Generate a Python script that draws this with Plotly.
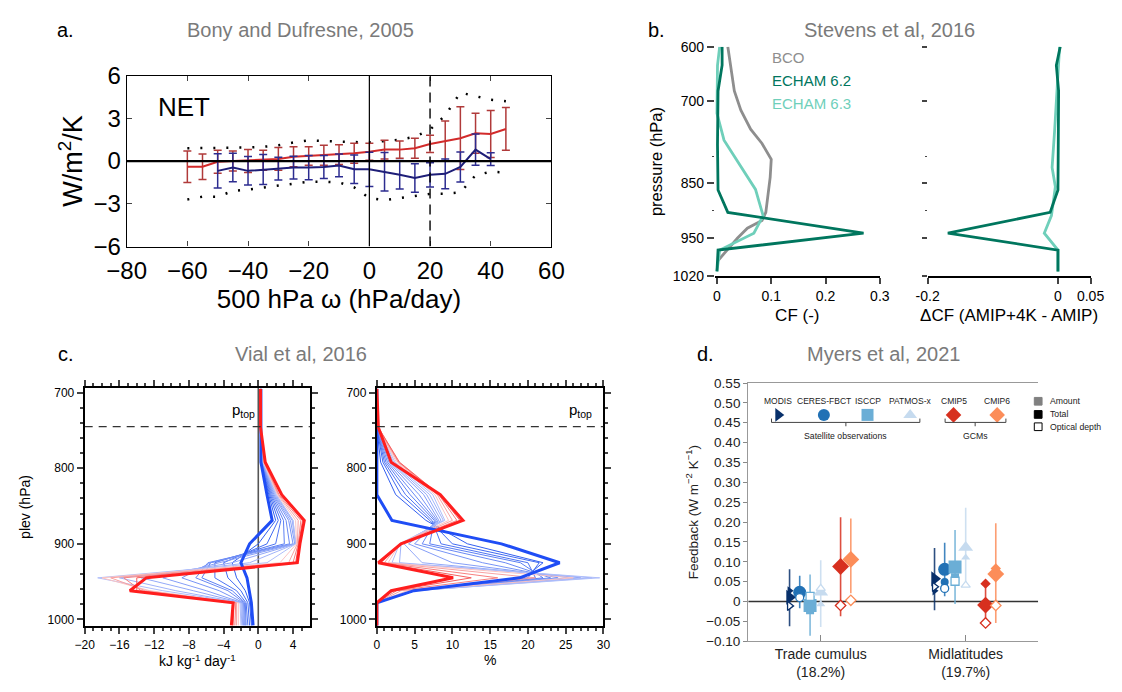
import plotly.graph_objects as go

W, H = 1122, 692
def px(x): return x / W
def py(y): return 1 - y / H

FONT = "Liberation Sans, Arial, sans-serif"

# ---------------- Panel a data (Bony & Dufresne 2005) ----------------
omega = [-60, -55, -50, -45, -40, -35, -30, -25, -20, -15, -10, -5, 0, 5, 10, 15, 20, 25, 30, 35, 40, 45]
red_mean = [-0.4, -0.4, -0.05, 0.0, 0.0, 0.05, 0.15, 0.3, 0.35, 0.4, 0.45, 0.55, 0.65, 0.8, 0.8, 0.9, 1.2, 1.4, 1.6, 1.95, 1.9, 2.25]
red_err = [1.1, 0.9, 0.8, 0.7, 0.8, 0.7, 0.8, 0.7, 0.65, 0.7, 0.7, 0.7, 0.6, 0.65, 0.6, 0.7, 0.6, 1.4, 2.2, 1.4, 1.65, 1.5]
omega_blue = [-50, -45, -40, -35, -30, -25, -20, -15, -10, -5, 0, 5, 10, 15, 20, 25, 30, 35, 40]
blue_mean = [-0.69, -0.46, -0.69, -0.6, -0.53, -0.46, -0.46, -0.42, -0.31, -0.58, -0.58, -0.75, -0.97, -1.19, -0.97, -0.9, -0.42, 0.8, 0.13]
blue_err = [1.2, 1.0, 1.0, 1.05, 0.8, 0.8, 0.85, 0.8, 0.8, 1.0, 1.2, 1.35, 1.0, 1.0, 0.85, 1.05, 1.05, 1.1, 0.45]
env_upper = [0.9, 0.9, 0.9, 0.9, 0.95, 1.0, 1.1, 1.3, 1.45, 1.4, 1.35, 1.3, 1.3, 1.4, 1.5, 1.7, 2.2, 3.2, 4.8, 4.55, 4.3, 4.2]
env_lower = [-2.7, -2.5, -2.5, -2.1, -2.0, -1.85, -1.75, -1.6, -1.45, -1.45, -1.5, -1.85, -2.6, -2.75, -2.6, -2.4, -2.3, -2.3, -2.2, -1.0, -0.75, -0.8]

# ---------------- Panel b data (Stevens et al 2016) ----------------
bco_cf = [0.02, 0.025, 0.032, 0.044, 0.062, 0.083, 0.1, 0.098, 0.092, 0.09, 0.083, 0.056, 0.038, 0.017, 0.002]
bco_p = [600, 634, 681, 716, 751, 777, 806, 839, 880, 903, 918, 932, 950, 973, 991]
e62_cf = [0.0095, 0.0095, 0.002, 0.001, 0.002, 0.02, 0.27, 0.002, 0.0]
e62_p = [600, 634, 681, 780, 862, 903, 941, 972, 1011]
e63_cf = [0.005, 0.001, 0.0, 0.013, 0.071, 0.085, 0.068, 0.005, 0.0]
e63_p = [600, 634, 722, 771, 861, 909, 941, 972, 1011]
e62_dcf = [0.0035, -0.0025, 0.001, 0.0, -0.012, -0.169, 0.0, 0.0]
e62_dp = [600, 634, 681, 862, 903, 941, 972, 1011]
e63_dcf = [0.0025, -0.0015, -0.005, -0.009, -0.004, -0.01, -0.021, 0.0, 0.0]
e63_dp = [600, 692, 751, 821, 856, 909, 941, 972, 1011]
b_ptick = [600, 700, 850, 950, 1020]

# ---------------- Panel c data (Vial et al 2016) ----------------
plev = [695, 746, 792, 835, 869, 900, 925, 945, 962, 978, 1008]
heat_blue = [0.3, 0.3, 0.3, 1.0, 1.6, -1.0, -2.0, -1.3, -1.0, -0.8, -0.6]
heat_mid = [
    [0.3, 0.3, 0.35, 1.2, 2.0, 0.0, -3.0, -2.5, -1.5, -1.0, -0.8],
    [0.3, 0.3, 0.35, 1.3, 2.3, 1.0, -4.0, -3.5, -2.0, -1.2, -1.0],
    [0.3, 0.3, 0.4, 1.4, 2.6, 2.0, -5.0, -5.0, -2.5, -1.4, -1.2],
    [0.3, 0.3, 0.4, 1.5, 2.9, 3.0, -5.5, -6.5, -3.0, -1.5, -1.4],
    [0.3, 0.3, 0.45, 1.6, 3.2, 3.6, -5.8, -7.2, -3.5, -1.6, -1.5],
    [0.3, 0.3, 0.45, 1.7, 3.5, 4.0, -5.5, -8.8, -4.5, -1.7, -1.6],
    [0.3, 0.3, 0.5, 1.8, 3.7, 4.2, -4.5, -11.0, -6.0, -1.8, -1.7],
    [0.3, 0.3, 0.5, 1.9, 3.9, 4.3, -3.0, -13.5, -7.5, -1.9, -1.8],
    [0.3, 0.3, 0.55, 2.0, 4.0, 4.3, -1.0, -16.0, -9.5, -2.0, -1.9],
    [0.3, 0.3, 0.55, 2.1, 4.0, 4.3, 1.0, -18.5, -11.0, -2.1, -2.0],
    [0.3, 0.3, 0.6, 2.2, 4.3, 4.4, 2.5, -18.0, -12.5, -2.3, -2.3],
    [0.3, 0.3, 0.65, 2.3, 4.6, 4.5, 3.5, -17.0, -13.0, -2.5, -2.5],
    [0.3, 0.3, 0.7, 2.4, 4.9, 4.6, 4.0, -15.5, -13.5, -2.6, -2.7],
    [0.3, 0.3, 0.75, 2.6, 5.1, 4.7, 4.3, -14.0, -14.0, -2.8, -2.9],
]
heat_red = [0.26, 0.26, 0.8, 2.7, 5.3, 4.8, 4.5, -12.9, -14.8, -2.9, -3.1]
cf_blue = [0.0, 0.0, 0.0, 0.0, 2.0, 16.5, 24.2, 18.9, 4.9, 0.0, 0.0]
cf_mid = [
    [0.0, 0.0, 0.5, 2.5, 6.5, 12.0, 22.0, 19.5, 5.0, 0.0, 0.0],
    [0.0, 0.0, 0.8, 3.2, 7.0, 10.0, 21.5, 20.0, 5.0, 0.0, 0.0],
    [0.0, 0.0, 1.0, 3.8, 7.3, 8.5, 20.0, 21.0, 5.0, 0.0, 0.0],
    [0.0, 0.0, 1.2, 4.4, 7.6, 7.0, 19.0, 22.0, 5.0, 0.0, 0.0],
    [0.0, 0.0, 1.4, 5.0, 7.8, 6.0, 17.0, 23.0, 5.0, 0.0, 0.0],
    [0.0, 0.0, 1.6, 5.6, 8.0, 5.0, 14.0, 24.0, 5.0, 0.0, 0.0],
    [0.0, 0.0, 1.8, 6.2, 8.2, 4.2, 10.0, 25.5, 5.0, 0.0, 0.0],
    [0.0, 0.0, 2.0, 6.6, 8.5, 3.6, 6.0, 27.0, 5.0, 0.0, 0.0],
    [0.0, 0.1, 2.2, 7.0, 8.8, 3.2, 3.0, 28.5, 5.0, 0.0, 0.0],
    [0.0, 0.1, 2.4, 7.4, 9.0, 3.0, 2.0, 29.5, 4.8, 0.0, 0.0],
    [0.0, 0.1, 2.6, 7.7, 9.5, 3.0, 1.5, 26.0, 4.0, 0.0, 0.0],
    [0.0, 0.1, 2.8, 8.0, 10.0, 3.0, 1.0, 21.0, 3.2, 0.0, 0.0],
    [0.0, 0.2, 2.9, 8.2, 10.6, 3.1, 0.6, 16.0, 2.6, 0.0, 0.0],
    [0.0, 0.2, 3.0, 8.3, 11.0, 3.1, 0.4, 12.5, 2.2, 0.0, 0.0],
]
cf_red = [0.0, 0.2, 1.9, 8.4, 11.4, 3.2, 0.2, 10.1, 1.9, 0.0, 0.0]
p_top = 745

# ---------------- Panel d data (Myers et al 2021) ----------------
regions = ["Trade cumulus<br>(18.2%)", "Midlatitudes<br>(19.7%)"]
datasets = ["MODIS", "CERES-FBCT", "ISCCP", "PATMOS-x", "CMIP5", "CMIP6"]
total_fb = [[0.011, 0.023, -0.010, 0.023, 0.088, 0.106],
            [0.057, 0.081, 0.087, 0.136, -0.009, 0.069]]
amount_fb = [[0.027, 0.018, -0.022, -0.007, 0.092, 0.108],
             [0.027, 0.049, 0.061, 0.111, 0.045, 0.083]]
optical_fb = [[-0.011, 0.010, 0.013, 0.033, -0.010, 0.003],
              [0.037, 0.033, 0.051, 0.041, -0.054, -0.010]]
fb_low = [[-0.062, -0.017, -0.086, -0.064, -0.037, 0.021],
          [-0.022, 0.013, -0.006, 0.040, -0.054, -0.054]]
fb_high = [[0.081, 0.065, 0.068, 0.104, 0.212, 0.209],
           [0.135, 0.148, 0.180, 0.236, 0.045, 0.197]]
d_ticks = [-0.10, -0.05, 0, 0.05, 0.10, 0.15, 0.20, 0.25, 0.30, 0.35, 0.40, 0.45, 0.50, 0.55]
d_ticktext = ["\u22120.10", "\u22120.05", "0", "0.05", "0.10", "0.15", "0.20", "0.25", "0.30", "0.35", "0.40", "0.45", "0.50", "0.55"]

# ====================================================================
fig = go.Figure()

# ---- panel a
RED_L, RED_E = "#d22a2a", "#b03a3a"
BLU_L, BLU_E = "#1e1e78", "#2c2c90"
for env in (env_upper, env_lower):
    fig.add_trace(go.Scatter(x=omega, y=env, mode="lines", xaxis="x", yaxis="y",
                             line=dict(color="black", width=2.5, dash="2px,11px")))
fig.add_trace(go.Scatter(x=omega, y=red_mean, mode="lines", xaxis="x", yaxis="y",
                         line=dict(color=RED_L, width=2),
                         error_y=dict(type="data", array=red_err, color=RED_E, thickness=1.5, width=4)))
fig.add_trace(go.Scatter(x=omega_blue, y=blue_mean, mode="lines", xaxis="x", yaxis="y",
                         line=dict(color=BLU_L, width=2),
                         error_y=dict(type="data", array=blue_err, color=BLU_E, thickness=1.5, width=4)))

# ---- panel b
C_BCO, C62, C63 = "#8e8e8e", "#00765e", "#6fcfba"
fig.add_trace(go.Scatter(x=bco_cf, y=bco_p, mode="lines", xaxis="x2", yaxis="y2",
                         line=dict(color=C_BCO, width=2.8)))
fig.add_trace(go.Scatter(x=e63_cf, y=e63_p, mode="lines", xaxis="x2", yaxis="y2",
                         line=dict(color=C63, width=2.8)))
fig.add_trace(go.Scatter(x=e62_cf, y=e62_p, mode="lines", xaxis="x2", yaxis="y2",
                         line=dict(color=C62, width=2.8)))
fig.add_trace(go.Scatter(x=e63_dcf, y=e63_dp, mode="lines", xaxis="x3", yaxis="y3",
                         line=dict(color=C63, width=2.8)))
fig.add_trace(go.Scatter(x=e62_dcf, y=e62_dp, mode="lines", xaxis="x3", yaxis="y3",
                         line=dict(color=C62, width=2.8)))

# ---- panel c (colour ramp: blue -> light blue -> pink -> red)
def lerp_col(c1, c2, t):
    return "#%02x%02x%02x" % tuple(int(round(a + (b - a) * t)) for a, b in zip(c1, c2))
n_mid = len(heat_mid)
mid_cols = []
for i in range(n_mid):
    if i < 10:
        mid_cols.append(lerp_col((50, 95, 240), (175, 190, 250), i / 9))
    else:
        mid_cols.append(lerp_col((250, 195, 195), (245, 95, 95), (i - 10) / 3))
for prof, col in zip(heat_mid, mid_cols):
    fig.add_trace(go.Scatter(x=prof, y=plev, mode="lines", xaxis="x4", yaxis="y4",
                             line=dict(color=col, width=1)))
for prof, col in zip(cf_mid, mid_cols):
    fig.add_trace(go.Scatter(x=prof, y=plev, mode="lines", xaxis="x5", yaxis="y5",
                             line=dict(color=col, width=1)))
fig.add_trace(go.Scatter(x=heat_blue, y=plev, mode="lines", xaxis="x4", yaxis="y4",
                         line=dict(color="#1f4df5", width=3)))
fig.add_trace(go.Scatter(x=heat_red, y=plev, mode="lines", xaxis="x4", yaxis="y4",
                         line=dict(color="#ff1e1e", width=3)))
fig.add_trace(go.Scatter(x=cf_blue, y=plev, mode="lines", xaxis="x5", yaxis="y5",
                         line=dict(color="#1f4df5", width=3)))
fig.add_trace(go.Scatter(x=cf_red, y=plev, mode="lines", xaxis="x5", yaxis="y5",
                         line=dict(color="#ff1e1e", width=3)))

# ---- panel d
ds_cols = ["#08306b", "#2171b5", "#6baed6", "#c6dbef", "#d7301f", "#fc8d59"]
ds_sym = ["triangle-right", "circle", "square", "triangle-up", "diamond", "diamond"]
offsets = [-0.43, -0.29, -0.147, 0.0, 0.274, 0.415]
def rgba(h, a):
    h = h.lstrip("#")
    return "rgba(%d,%d,%d,%.2f)" % (int(h[0:2], 16), int(h[2:4], 16), int(h[4:6], 16), a)

for g in range(len(regions)):
    for k in range(len(datasets)):
        xc = 2 * g + offsets[k]
        col = ds_cols[k]
        fig.add_trace(go.Scatter(
            x=[xc], y=[total_fb[g][k]], mode="markers", xaxis="x6", yaxis="y6",
            marker=dict(symbol=ds_sym[k], size=13, color=col, line=dict(width=0)),
            error_y=dict(type="data", symmetric=False,
                         array=[fb_high[g][k] - total_fb[g][k]],
                         arrayminus=[total_fb[g][k] - fb_low[g][k]],
                         color=rgba(col, 0.85), thickness=1.6, width=0)))
        fig.add_trace(go.Scatter(
            x=[xc], y=[amount_fb[g][k]], mode="markers", xaxis="x6", yaxis="y6",
            marker=dict(symbol=ds_sym[k], size=8, color=col, line=dict(width=0))))
        fig.add_trace(go.Scatter(
            x=[xc], y=[optical_fb[g][k]], mode="markers", xaxis="x6", yaxis="y6",
            marker=dict(symbol=ds_sym[k], size=8, color="white", line=dict(width=1.3, color=col))))

# legend key markers for panel d
D_X0, D_X1, D_XR = 751, 1050, (-1, 3)
D_Y0PX, D_YSCALE = 610.7, 413.0
def dx(p): return D_XR[0] + (p - D_X0) / (D_X1 - D_X0) * (D_XR[1] - D_XR[0])
def dy(p): return (D_Y0PX - p) / D_YSCALE
leg_px = [782, 829, 874, 918, 962.7, 1007.7]
fig.add_trace(go.Scatter(x=[dx(p) for p in leg_px], y=[dy(416.7)] * 6, mode="markers",
                         xaxis="x6", yaxis="y6", cliponaxis=False,
                         marker=dict(symbol=ds_sym, size=12, color=ds_cols)))

# ====================================================================
tickfont_a = dict(family=FONT, size=24, color="black")
ax_common = dict(showgrid=False, zeroline=False)

layout = dict(
    width=W, height=H, margin=dict(l=0, r=0, t=0, b=0),
    paper_bgcolor="white", plot_bgcolor="white", showlegend=False,
    font=dict(family=FONT, color="black"),
    # panel a
    xaxis=dict(domain=[px(110), px(548)], range=[-80, 60], anchor="y", tickvals=[-80, -60, -40, -20, 0, 20, 40, 60],
               ticks="inside", ticklen=5, mirror="ticks", showline=True, linecolor="black", linewidth=1.2,
               ticklabelstandoff=3,
               tickfont=tickfont_a, title=dict(text="500 hPa \u03c9 (hPa/day)", font=dict(family=FONT, size=26), standoff=0),
               **ax_common),
    yaxis=dict(domain=[py(242), py(64)], range=[-6, 6], anchor="x", tickvals=[-6, -3, 0, 3, 6],
               ticks="inside", ticklen=5, mirror="ticks", showline=True, linecolor="black", linewidth=1.2,
               tickfont=tickfont_a, title=dict(text="W/m<sup>2</sup>/K", font=dict(family=FONT, size=27), standoff=2),
               **ax_common),
    # panel b left
    xaxis2=dict(domain=[px(716.5), px(886.7)], range=[-0.004, 0.3], anchor="y2",
                tickvals=[0, 0.1, 0.2, 0.3], ticktext=["0", "0.1", "0.2", "0.3"],
                ticks="outside", ticklen=6, tickwidth=1.5, showline=True, linecolor="black", linewidth=1.5,
                tickfont=dict(family=FONT, size=14), title=dict(text="CF (-)", font=dict(family=FONT, size=17), standoff=6),
                **ax_common),
    yaxis2=dict(domain=[py(273), py(34)], range=[1020, 600], anchor="x2", tickvals=b_ptick,
                ticks="outside", ticklen=7, tickwidth=1.5, showline=False,
                minor=dict(tickvals=[800, 900], ticklen=2, ticks="outside", tickwidth=1.2),
                tickfont=dict(family=FONT, size=14), title=dict(text="pressure (hPa)", font=dict(family=FONT, size=16.5), standoff=6),
                **ax_common),
    # panel b right
    xaxis3=dict(domain=[px(936), px(1104)], range=[-0.2, 0.05], anchor="y3",
                tickvals=[-0.2, 0, 0.05], ticktext=["-0.2", "0", "0.05"],
                ticks="outside", ticklen=6, tickwidth=1.5, showline=True, linecolor="black", linewidth=1.5,
                tickfont=dict(family=FONT, size=14),
                title=dict(text="\u0394CF (AMIP+4K - AMIP)", font=dict(family=FONT, size=17), standoff=6),
                **ax_common),
    yaxis3=dict(domain=[py(273), py(34)], range=[1020, 600], anchor="x3", tickvals=b_ptick,
                ticks="outside", ticklen=5, tickwidth=1.5, showline=False, showticklabels=False,
                minor=dict(tickvals=[800, 900], ticklen=2, ticks="outside", tickwidth=1.2),
                **ax_common),
    # panel c left
    xaxis4=dict(domain=[px(66.7), px(299)], range=[-20, 5.95], anchor="y4",
                tickvals=[-20, -16, -12, -8, -4, 0, 4],
                ticks="outside", ticklen=6, tickwidth=1.5, showline=True, mirror="ticks",
                linecolor="black", linewidth=2,
                minor=dict(dtick=1, tick0=0, ticklen=3, ticks="outside"),
                tickfont=dict(family=FONT, size=12),
                title=dict(text="kJ kg<sup>-1</sup> day<sup>-1</sup>", font=dict(family=FONT, size=14), standoff=4),
                **ax_common),
    yaxis4=dict(domain=[py(637), py(389)], range=[1008.9, 693.6], anchor="x4", tickvals=[700, 800, 900, 1000],
                ticks="outside", ticklen=6, tickwidth=1.5, showline=True, mirror="ticks",
                linecolor="black", linewidth=2,
                minor=dict(dtick=20, tick0=700, ticklen=3, ticks="outside"),
                tickfont=dict(family=FONT, size=12),
                title=dict(text="plev (hPa)", font=dict(family=FONT, size=14), standoff=14),
                **ax_common),
    # panel c right
    xaxis5=dict(domain=[px(368), px(601.7)], range=[0, 30], anchor="y5",
                tickvals=[0, 5, 10, 15, 20, 25, 30],
                ticks="outside", ticklen=6, tickwidth=1.5, showline=True, mirror="ticks",
                linecolor="black", linewidth=2,
                minor=dict(dtick=1, tick0=0, ticklen=3, ticks="outside"),
                tickfont=dict(family=FONT, size=12),
                title=dict(text="%", font=dict(family=FONT, size=14), standoff=4),
                **ax_common),
    yaxis5=dict(domain=[py(637), py(389)], range=[1008.9, 693.6], anchor="x5", tickvals=[700, 800, 900, 1000],
                ticks="outside", ticklen=6, tickwidth=1.5, showline=True, mirror="ticks",
                linecolor="black", linewidth=2,
                minor=dict(dtick=20, tick0=700, ticklen=3, ticks="outside"),
                tickfont=dict(family=FONT, size=12),
                **ax_common),
    # panel d
    xaxis6=dict(domain=[px(751), px(1050)], range=[-1, 3], anchor="y6",
                tickvals=[0, 2], ticktext=regions, ticks="inside", ticklen=6, tickcolor="#888",
                showline=True, mirror=True, linecolor="#999", linewidth=1.3,
                tickfont=dict(family=FONT, size=14, color="#222"), **ax_common),
    yaxis6=dict(domain=[py(652.7), py(384)], range=[-0.10, 0.55], anchor="x6",
                tickvals=d_ticks, ticktext=d_ticktext, ticks="outside", ticklen=4, tickcolor="#888",
                showline=True, linecolor="#999", linewidth=1.3,
                tickfont=dict(family=FONT, size=13.5, color="#222"),
                title=dict(text="Feedback (W m<sup>\u22122</sup> K<sup>\u22121</sup>)", font=dict(family=FONT, size=13.5, color="#222"), standoff=4),
                **ax_common),
)
fig.update_layout(**layout)

shapes = [
    dict(type="line", xref="x", yref="y", x0=-80, x1=60, y0=0, y1=0, line=dict(color="black", width=2.2)),
    dict(type="line", xref="x", yref="y", x0=0, x1=0, y0=-6, y1=6, line=dict(color="black", width=1.2)),
    dict(type="line", xref="x", yref="y", x0=20, x1=20, y0=-6, y1=6, line=dict(color="black", width=1.4, dash="10px,6px")),
    dict(type="line", xref="x4", yref="y4", x0=-20, x1=5.95, y0=p_top, y1=p_top, line=dict(color="#333", width=1.3, dash="8px,6px")),
    dict(type="line", xref="x5", yref="y5", x0=0, x1=30, y0=p_top, y1=p_top, line=dict(color="#333", width=1.3, dash="8px,6px")),
    dict(type="line", xref="x4", yref="y4", x0=0, x1=0, y0=693.6, y1=1008.9, line=dict(color="#555", width=1.6), layer="below"),
    dict(type="line", xref="x6", yref="y6", x0=-1, x1=3, y0=0, y1=0, line=dict(color="#333", width=1.3), layer="below"),
]
def path_px(pts):
    return "M " + " L ".join("%.5f,%.5f" % (px(a), py(b)) for a, b in pts)
shapes += [
    dict(type="path", xref="paper", yref="paper", path=path_px([(775, 421), (775, 425), (928, 425), (928, 421)]), line=dict(color="#444", width=1)),
    dict(type="path", xref="paper", yref="paper", path=path_px([(851.7, 425), (851.7, 429)]), line=dict(color="#444", width=1)),
    dict(type="path", xref="paper", yref="paper", path=path_px([(954, 421), (954, 425), (1016.7, 425), (1016.7, 421)]), line=dict(color="#444", width=1)),
    dict(type="path", xref="paper", yref="paper", path=path_px([(985, 425), (985, 429)]), line=dict(color="#444", width=1)),
]
for ycen, fill, lc in [(403, "#808080", "#808080"), (416.7, "black", "black"), (429.5, "white", "black")]:
    shapes.append(dict(type="rect", xref="paper", yref="paper", x0=px(1046), x1=px(1054),
                       y0=py(ycen + 4), y1=py(ycen - 4), fillcolor=fill, line=dict(color=lc, width=1)))
fig.update_layout(shapes=shapes)

def ann(x, y, text, size, color="black", xanchor="center", **kw):
    return dict(x=px(x), y=py(y), xref="paper", yref="paper", text=text, showarrow=False,
                xanchor=xanchor, yanchor="middle", font=dict(family=FONT, size=size, color=color), **kw)

GR = "#7a7a7a"
annots = [
    ann(47, 17, "a.", 20),
    ann(289, 17, "Bony and Dufresne, 2005", 20, GR),
    ann(656, 17, "b.", 20),
    ann(897, 17, "Stevens et al, 2016", 20, GR),
    ann(47, 354, "c.", 20),
    ann(290, 354, "Vial et al, 2016", 20, GR),
    ann(707, 354, "d.", 20),
    ann(890, 354, "Myers et al, 2021", 20, GR),
    ann(140, 97, "NET", 26, xanchor="left"),
    ann(773, 45, "BCO", 15, C_BCO, xanchor="left"),
    ann(773, 69, "ECHAM 6.2", 15, C62, xanchor="left"),
    ann(773, 93, "ECHAM 6.3", 15, C63, xanchor="left"),
    ann(230, 413, "p<sub>top</sub>", 15),
    ann(578, 413, "p<sub>top</sub>", 15),
    ann(1060, 403, "Amount", 8.7, "#222", xanchor="left"),
    ann(1060, 416.7, "Total", 8.7, "#222", xanchor="left"),
    ann(1060, 429.5, "Optical depth", 8.7, "#222", xanchor="left"),
    ann(851.7, 439, "Satellite observations", 8.7, "#222"),
    ann(985, 439, "GCMs", 8.7, "#222"),
]
for name, p in zip(datasets, leg_px):
    annots.append(ann(p, 403, name, 8.5, "#222"))
fig.update_layout(annotations=annots)

fig.write_html("out.html")
